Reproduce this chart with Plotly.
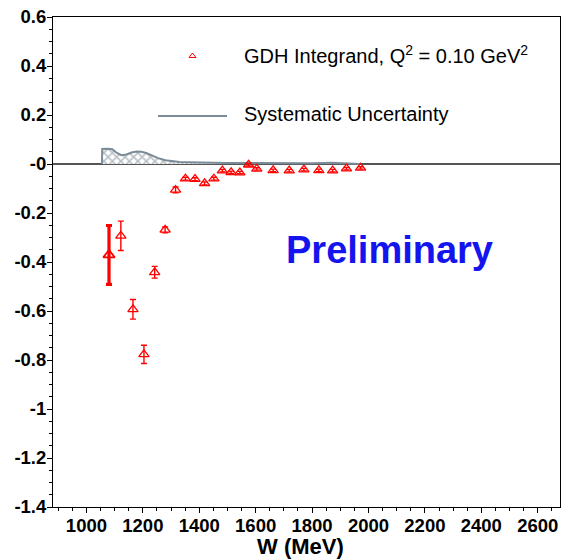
import plotly.graph_objects as go

# ---- data ----
W = [1080, 1122, 1165, 1204, 1242, 1279, 1316, 1351, 1385, 1419, 1452, 1482,
     1513, 1544, 1575, 1604, 1662, 1719, 1771, 1824, 1873, 1922, 1972]
gdh = [-0.371, -0.293, -0.593, -0.777, -0.442, -0.269, -0.106, -0.060, -0.062,
       -0.079, -0.060, -0.027, -0.034, -0.035, -0.003, -0.020, -0.026, -0.027,
       -0.023, -0.026, -0.027, -0.019, -0.016]
gdh_err = [0.12, 0.06, 0.04, 0.037, 0.024, 0.012, 0.012, 0.006, 0.006, 0.006,
           0.006, 0.005, 0.005, 0.005, 0.005, 0.005, 0.005, 0.005, 0.005, 0.005,
           0.005, 0.005, 0.005]

sys_W = [1055, 1056, 1075, 1092, 1108, 1124, 1142, 1160, 1178, 1195, 1212, 1230,
         1254, 1280, 1302, 1330, 1359, 1420, 1500, 1600, 1700, 1800, 1870, 1920, 1970]
sys_val = [0.0, 0.061, 0.062, 0.060, 0.045, 0.036, 0.039, 0.047, 0.051, 0.050,
           0.045, 0.036, 0.024, 0.015, 0.011, 0.008, 0.007, 0.005, 0.004, 0.004,
           0.003, 0.003, 0.005, 0.003, 0.0]

x_ticks = [1000, 1200, 1400, 1600, 1800, 2000, 2200, 2400, 2600]
y_ticks = [0.6, 0.4, 0.2, 0.0, -0.2, -0.4, -0.6, -0.8, -1.0, -1.2, -1.4]
y_tick_text = ["0.6", "0.4", "0.2", "-0", "-0.2", "-0.4", "-0.6", "-0.8",
               "-1", "-1.2", "-1.4"]

legend_gdh = "GDH Integrand, Q<sup>2</sup> = 0.10 GeV<sup>2</sup>"
legend_sys = "Systematic Uncertainty"
prelim = "Preliminary"
x_title = "W (MeV)"

RED = "#ff0000"
SYS = "#7b8b97"
FONT = "Liberation Sans, Arial, sans-serif"

fig = go.Figure()

# systematic band
fig.add_trace(go.Scatter(
    x=sys_W, y=sys_val, mode="lines", fill="tozeroy",
    line=dict(color=SYS, width=2),
    fillpattern=dict(shape="x", fgcolor="#6f7f8b", bgcolor="white", size=6, solidity=0.45),
    fillcolor="white",
    showlegend=False, hoverinfo="skip"))

# first point (overlapping, thick error bar)
fig.add_trace(go.Scatter(
    x=W[:1], y=gdh[:1], mode="markers",
    marker=dict(symbol="triangle-up-open", size=10, color=RED, line=dict(width=1.8, color=RED)),
    error_y=dict(type="data", array=gdh_err[:1], color=RED, thickness=3.2, width=3),
    showlegend=False))

# remaining points
fig.add_trace(go.Scatter(
    x=W[1:], y=gdh[1:], mode="markers",
    marker=dict(symbol="triangle-up-open", size=9, color=RED, line=dict(width=1.3, color=RED)),
    error_y=dict(type="data", array=gdh_err[1:], color=RED, thickness=1.4, width=3),
    showlegend=False))

# legend drawn on a pixel-space overlay axis
fig.add_trace(go.Scatter(
    x=[192.5], y=[56], xaxis="x2", yaxis="y2", mode="markers",
    marker=dict(symbol="triangle-up-open", size=6, color=RED, line=dict(width=1, color=RED)),
    showlegend=False, hoverinfo="skip"))
fig.add_trace(go.Scatter(
    x=[158, 227], y=[116, 116], xaxis="x2", yaxis="y2", mode="lines",
    line=dict(color=SYS, width=2), showlegend=False, hoverinfo="skip"))

fig.add_annotation(x=242, y=54.5, xref="x2", yref="y2", text=legend_gdh,
                   showarrow=False, xanchor="left", yanchor="middle",
                   font=dict(family=FONT, size=20, color="black"))
fig.add_annotation(x=242, y=113.5, xref="x2", yref="y2", text=legend_sys,
                   showarrow=False, xanchor="left", yanchor="middle",
                   font=dict(family=FONT, size=20, color="black"))
fig.add_annotation(x=284, y=249.5, xref="x2", yref="y2", text="<b>" + prelim + "</b>",
                   showarrow=False, xanchor="left", yanchor="middle",
                   font=dict(family=FONT, size=38, color="#1414ee"))
fig.add_annotation(x=(300 - 53) / 507, y=(507 - 560) / 490, xref="paper", yref="paper",
                   text="<b>" + x_title + "</b>", borderpad=0,
                   showarrow=False, xanchor="center", yanchor="bottom",
                   font=dict(family=FONT, size=22, color="black"))

fig.update_layout(
    width=563, height=560,
    margin=dict(l=53, r=3, t=17, b=53, autoexpand=False),
    paper_bgcolor="white", plot_bgcolor="white",
    font=dict(family=FONT, color="black"),
    xaxis=dict(range=[881.5, 2679], tickmode="array", tickvals=x_ticks,
               ticks="outside", ticklen=5, tickwidth=1, tickcolor="black",
               showline=True, linecolor="black", linewidth=1, mirror=True,
               showgrid=False, zeroline=False, automargin=False,
               ticklabelstandoff=-3,
               tickfont=dict(family=FONT, size=18.5, color="black", weight="bold"),
               minor=dict(tickmode="linear", tick0=0, dtick=50, ticks="outside",
                          ticklen=3, tickcolor="black", showgrid=False)),
    yaxis=dict(range=[-1.4, 0.6], tickmode="array", tickvals=y_ticks,
               ticktext=y_tick_text,
               ticks="outside", ticklen=5, tickwidth=1, tickcolor="black",
               showline=True, linecolor="black", linewidth=1, mirror=True,
               showgrid=False, zeroline=True, zerolinecolor="#555555", zerolinewidth=1.5,
               automargin=False, ticklabelstandoff=-3,
               tickfont=dict(family=FONT, size=18.5, color="black", weight="bold"),
               minor=dict(tickmode="linear", tick0=0, dtick=0.05, ticks="outside",
                          ticklen=3, tickcolor="black", showgrid=False)),
    xaxis2=dict(overlaying="x", range=[53, 560], visible=False, fixedrange=True,
                automargin=False),
    yaxis2=dict(overlaying="y", range=[507, 17], visible=False, fixedrange=True,
                automargin=False),
)

fig.write_html("out.html",
               config={"displayModeBar": False},
               post_script="document.body.style.margin='0';"
                           "document.body.style.padding='0';"
                           "document.body.style.overflow='hidden';")
